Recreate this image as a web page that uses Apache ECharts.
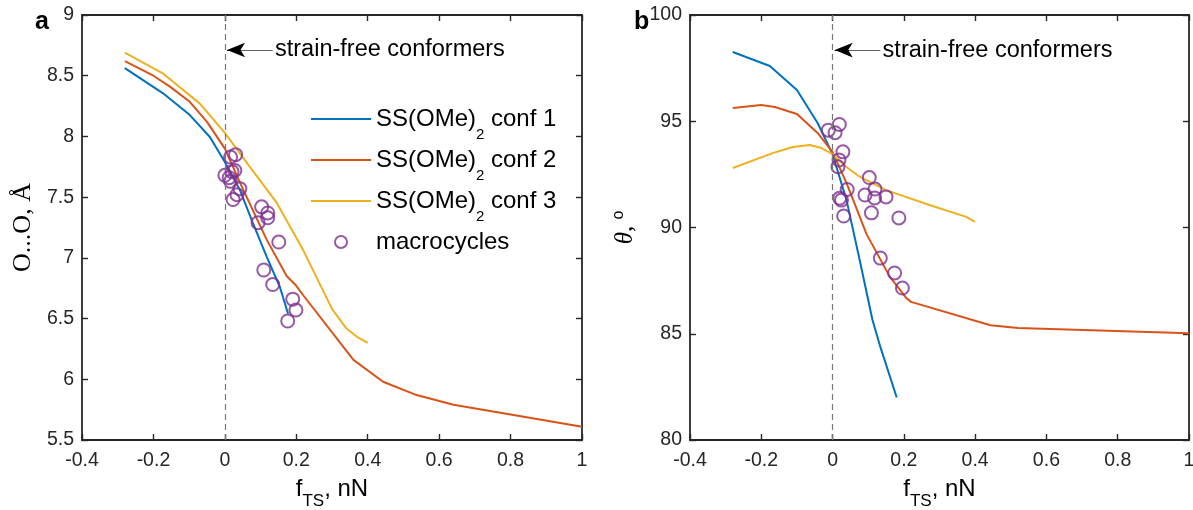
<!DOCTYPE html>
<html><head><meta charset="utf-8">
<script src="https://cdn.jsdelivr.net/npm/echarts@6/dist/echarts.min.js"></script>
<style>html,body{margin:0;padding:0;background:#fff}#c{width:1193px;height:510px}</style>
</head><body><div id="c"></div><script>
// ---- data ----
// panel a : O...O distance (Angstrom) vs f_TS (nN)
const aConf1X = [-0.28,-0.174,-0.098,-0.042,0,0.042,0.078,0.117,0.154,0.177];
const aConf1Y = [8.563,8.357,8.176,7.995,7.79,7.56,7.29,7.01,6.76,6.54];
const aConf2X = [-0.28,-0.2,-0.154,-0.1,-0.05,0,0.05,0.117,0.173,0.2,0.22,0.36,0.443,0.537,0.64,0.8,1.0];
const aConf2Y = [8.62,8.50,8.41,8.29,8.12,7.90,7.57,7.15,6.85,6.77,6.69,6.16,5.98,5.87,5.79,5.71,5.61];
const aConf3X = [-0.28,-0.174,-0.07,0,0.07,0.146,0.22,0.3,0.34,0.37,0.4];
const aConf3Y = [8.69,8.52,8.27,8.03,7.75,7.45,7.06,6.58,6.42,6.35,6.30];
const aMacroX = [0.0,0.012,0.02,0.028,0.016,0.042,0.034,0.023,0.016,0.03,0.103,0.12,0.12,0.093,0.151,0.109,0.134,0.19,0.199,0.176];
const aMacroY = [7.68,7.66,7.71,7.72,7.63,7.57,7.52,7.48,7.83,7.85,7.42,7.37,7.33,7.29,7.13,6.90,6.78,6.66,6.57,6.48];
// panel b : theta (deg) vs f_TS (nN)
const bConf1X = [-0.28,-0.176,-0.1,-0.042,0,0.039,0.076,0.112,0.134,0.18];
const bConf1Y = [98.26,97.6,96.47,94.92,93.45,91.3,88.47,85.65,84.38,82.0];
const bConf2X = [-0.28,-0.2,-0.162,-0.1,-0.042,0,0.039,0.095,0.16,0.207,0.22,0.443,0.52,0.75,1.0];
const bConf2Y = [95.62,95.76,95.67,95.34,94.45,93.55,92.1,89.7,87.7,86.68,86.5,85.4,85.27,85.15,85.02];
const bConf3X = [-0.28,-0.168,-0.112,-0.064,-0.031,0,0.038,0.076,0.15,0.272,0.375,0.4];
const bConf3Y = [92.8,93.5,93.79,93.88,93.74,93.45,92.86,92.39,91.76,91.06,90.5,90.26];
const bMacroX = [-0.012,0.019,0.007,0.029,0.018,0.015,0.041,0.02,0.025,0.031,0.103,0.119,0.091,0.118,0.15,0.109,0.186,0.134,0.174,0.196];
const bMacroY = [94.58,94.85,94.46,93.56,93.18,92.86,91.79,91.38,91.29,90.54,92.35,91.81,91.53,91.39,91.44,90.69,90.45,88.56,87.86,87.15];

const seriesNames = ['conf 1','conf 2','conf 3','macrocycles'];
const xRange = {min:-0.4, max:1, step:0.2};
const yRangeA = {min:5.5, max:9, step:0.5};
const yRangeB = {min:80, max:100, step:5};
const annotText = 'strain-free conformers';
const annotA = {y:8.712, tail:0.134, neck:0.046, textX:0.139};
const annotB = {y:98.35, tail:0.134, neck:0.046, textX:0.139};

// ---- styling ----
const SANS = 'Liberation Sans, Arial, Helvetica, sans-serif';
const SERIF = 'Liberation Serif, Times New Roman, serif';
const AX = '#262626';
const COLORS = ['#0072BD','#D95319','#EDB120','#7E2F8E'];
const zip = (xs, ys) => xs.map((x,i)=>[x, ys[i]]);

function xAxis(grid, pos, labels) {
  return {
    type:'value', gridIndex:grid, position:pos, min:xRange.min, max:xRange.max, interval:xRange.step,
    axisLine:{show:true, onZero:false, lineStyle:{color:AX, width:1.8}},
    axisTick:{show:true, inside:true, length:6, lineStyle:{color:AX, width:1.4}},
    axisLabel:{show:labels, margin:11, color:AX, fontSize:19.5, fontFamily:SANS},
    splitLine:{show:false},
    name: labels ? '{f|f}{s|TS}{f|, nN}' : '',
    nameLocation:'middle', nameGap:37, nameMoveOverlap:false,
    nameTextStyle:{rich:{
      f:{fontFamily:SANS, fontSize:24, lineHeight:24, color:'#000'},
      s:{fontFamily:SANS, fontSize:17, lineHeight:17, padding:[25,0,0,0], color:'#000'}
    }}
  };
}
function yAxis(grid, pos, labels, r, extra) {
  return Object.assign({
    type:'value', gridIndex:grid, position:pos, min:r.min, max:r.max, interval:r.step,
    axisLine:{show:true, onZero:false, lineStyle:{color:AX, width:1.8}},
    axisTick:{show:true, inside:true, length:6, lineStyle:{color:AX, width:1.4}},
    axisLabel:{show:labels, margin:8, color:AX, fontSize:19.5, fontFamily:SANS},
    splitLine:{show:false}
  }, extra || {});
}

function annot(a) {
  return {
    markLine:{
      silent:true, animation:false, symbol:['none','none'], label:{show:false},
      lineStyle:{color:'#777', type:[6,4], width:1.2},
      emphasis:{disabled:true},
      data:[
        {xAxis:0},
        [{coord:[a.tail, a.y], lineStyle:{color:'#606060', type:'solid', width:1}}, {coord:[a.neck, a.y]}],
        [{coord:[a.neck, a.y], lineStyle:{color:'#000', type:'solid', width:1}},
         {coord:[0.006, a.y], symbol:'arrow', symbolSize:[11,18]}]
      ]
    },
    markPoint:{
      silent:true, animation:false, symbol:'circle', symbolSize:1,
      itemStyle:{color:'rgba(0,0,0,0)'},
      label:{show:true, position:'right', distance:0, formatter:annotText, color:'#000', fontSize:23.5, fontFamily:SANS},
      data:[{coord:[a.textX, a.y]}]
    }
  };
}

function lineSeries(name, xi, yi, xs, ys, color, extra) {
  return Object.assign({
    name, type:'line', xAxisIndex:xi, yAxisIndex:yi, data:zip(xs, ys),
    symbol:'none', smooth:false, lineStyle:{color, width:2}, itemStyle:{color},
    z:3
  }, extra || {});
}
function scatterSeries(xi, yi, xs, ys) {
  return {
    name:seriesNames[3], type:'scatter', xAxisIndex:xi, yAxisIndex:yi, data:zip(xs, ys),
    symbol:'circle', symbolSize:13,
    itemStyle:{color:'rgba(255,255,255,0)', borderColor:COLORS[3], borderWidth:2},
    z:4
  };
}

const legendLabels = {
  'conf 1':'{m|SS(OMe)}{s|2}{m| conf 1}',
  'conf 2':'{m|SS(OMe)}{s|2}{m| conf 2}',
  'conf 3':'{m|SS(OMe)}{s|2}{m| conf 3}',
  'macrocycles':'{p|macrocycles}'
};
const LINE_ICON = 'path://M0 0H60V2H0Z';

const option = {
  animation:false,
  backgroundColor:'#fff',
  title:[
    {text:'a', left:35, top:10, padding:0, textStyle:{fontSize:25, fontWeight:'bold', fontFamily:SANS, color:'#000'}},
    {text:'b', left:634, top:10, padding:0, textStyle:{fontSize:25, fontWeight:'bold', fontFamily:SANS, color:'#000'}}
  ],
  grid:[
    {left:82, top:15, width:500, height:425, containLabel:false, outerBoundsMode:'none'},
    {left:690, top:15, width:499, height:425, containLabel:false, outerBoundsMode:'none'}
  ],
  xAxis:[xAxis(0,'bottom',true), xAxis(1,'bottom',true), xAxis(0,'top',false), xAxis(1,'top',false)],
  yAxis:[
    yAxis(0,'left',true,yRangeA,{name:'O...O, Å', nameLocation:'middle', nameGap:46, nameMoveOverlap:false,
      nameTextStyle:{fontFamily:SERIF, fontSize:26, color:'#000'}}),
    yAxis(1,'left',true,yRangeB,{name:'{t|θ}{c|, }{o|o}', nameLocation:'middle', nameGap:52, nameMoveOverlap:false,
      nameTextStyle:{rich:{
        t:{fontFamily:SERIF, fontStyle:'italic', fontSize:25, lineHeight:25, color:'#000'},
        c:{fontFamily:SERIF, fontSize:25, lineHeight:25, color:'#000'},
        o:{fontFamily:SANS, fontSize:16, lineHeight:16, padding:[0,0,14,0], color:'#000'}
      }}}),
    yAxis(0,'right',false,yRangeA),
    yAxis(1,'right',false,yRangeB)
  ],
  legend:{
    data:[
      {name:seriesNames[0], icon:LINE_ICON},
      {name:seriesNames[1], icon:LINE_ICON},
      {name:seriesNames[2], icon:LINE_ICON},
      {name:seriesNames[3]}
    ],
    orient:'vertical', left:311, top:96, padding:0,
    itemWidth:60, itemHeight:12, itemGap:-5, selectedMode:false,
    formatter:name => legendLabels[name],
    textStyle:{fontFamily:SANS, fontSize:24, color:'#000', rich:{
      m:{fontFamily:SANS, fontSize:24, lineHeight:24, color:'#000'},
      s:{fontFamily:SANS, fontSize:15, lineHeight:15, padding:[31,0,0,0], color:'#000'},
      p:{fontFamily:SANS, fontSize:24, lineHeight:24, padding:[11,0,11,0], color:'#000'}
    }}
  },
  series:[
    lineSeries(seriesNames[0],0,0,aConf1X,aConf1Y,COLORS[0], annot(annotA)),
    lineSeries(seriesNames[1],0,0,aConf2X,aConf2Y,COLORS[1]),
    lineSeries(seriesNames[2],0,0,aConf3X,aConf3Y,COLORS[2]),
    scatterSeries(0,0,aMacroX,aMacroY),
    lineSeries(seriesNames[0],1,1,bConf1X,bConf1Y,COLORS[0], annot(annotB)),
    lineSeries(seriesNames[1],1,1,bConf2X,bConf2Y,COLORS[1]),
    lineSeries(seriesNames[2],1,1,bConf3X,bConf3Y,COLORS[2]),
    scatterSeries(1,1,bMacroX,bMacroY)
  ]
};
const chart = echarts.init(document.getElementById('c'), null, {renderer:'canvas'});
chart.setOption(option);
</script></body></html>
